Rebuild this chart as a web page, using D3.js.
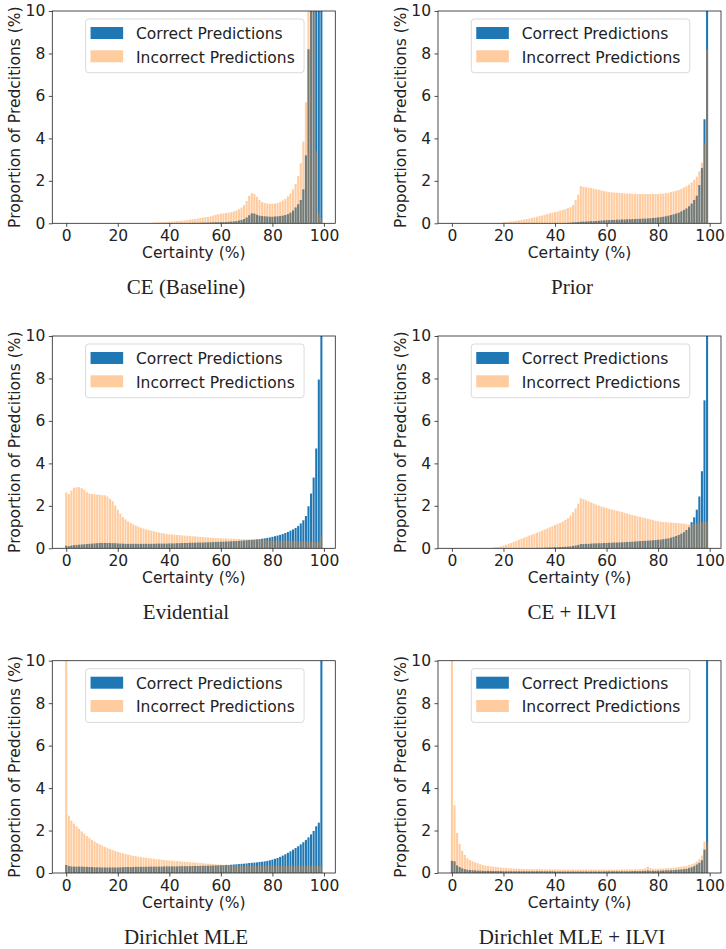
<!DOCTYPE html>
<html>
<head>
<meta charset="utf-8">
<script src="https://cdn.jsdelivr.net/npm/d3@7"></script>
<style>
  html, body { margin: 0; padding: 0; background: #fff; }
  svg { display: block; }
  .tick text { font-family: "DejaVu Sans", sans-serif; font-size: 15.5px; fill: #222; }
  .tick line { stroke: #222; stroke-width: 0.8; }
</style>
</head>
<body>
<svg id="fig" width="726" height="949"></svg>
<script>
// Certainty bins (%), one bar per bin
const bins = d3.range(100);
const xTicks = [0, 20, 40, 60, 80, 100];
const yTicks = [0, 2, 4, 6, 8, 10];
const seriesNames = ["Correct Predictions", "Incorrect Predictions"];
const panelTitles = ["CE (Baseline)", "Prior", "Evidential", "CE + ILVI", "Dirichlet MLE", "Dirichlet MLE + ILVI"];

// Proportion of predictions (%) per certainty bin
const ceCorrect = [
  0,0,0,0,0,0,0,0,0,0, 0,0,0,0,0,0,0,0,0,0, 0,0,0,0,0,0,0,0,0,0, 0,0,0,0,0,0,0,0,0,0,
  0,0,0,0,0,0.01,0.01,0.01,0.01,0.02,
  0.02,0.02,0.02,0.03,0.03,0.03,0.04,0.04,0.05,0.05,
  0.05,0.06,0.06,0.07,0.08,0.09,0.1,0.13,0.16,0.2,
  0.27,0.38,0.47,0.46,0.4,0.36,0.34,0.33,0.32,0.31,
  0.31,0.32,0.33,0.34,0.36,0.39,0.43,0.5,0.6,0.75,
  0.9,1.1,1.6,3.2,8.2,14,22,30,25,10
];
const ceIncorrect = [
  0,0,0,0,0,0,0,0,0,0, 0,0,0,0,0,0,0,0,0,0, 0,0,0,0,0,0,0,0,0,0,
  0,0,0,0,0.03,0.04,0.04,0.05,0.05,0.06,
  0.07,0.08,0.09,0.1,0.11,0.12,0.13,0.15,0.17,0.19,
  0.2,0.22,0.25,0.27,0.29,0.3,0.33,0.36,0.4,0.43,
  0.45,0.47,0.48,0.5,0.52,0.56,0.6,0.66,0.74,0.86,
  1.05,1.3,1.42,1.38,1.25,1.1,1.0,0.96,0.93,0.92,
  0.92,0.93,0.95,1.0,1.07,1.15,1.27,1.4,1.6,1.85,
  2.23,2.83,3.85,5.7,18,22,15,3.4,0.5,0.25
];

const priorCorrect = [
  0,0,0,0,0,0,0,0,0,0, 0,0,0,0,0,0,0,0,0,0, 0,0,0,0,0,0,0,0,0,0, 0,0,0,0,0,0,0,0,0,0,
  0,0,0,0,0,0.02,0.03,0.04,0.05,0.06,
  0.07,0.08,0.08,0.09,0.1,0.1,0.11,0.12,0.13,0.14,
  0.15,0.15,0.16,0.16,0.17,0.17,0.18,0.18,0.19,0.19,
  0.2,0.2,0.21,0.21,0.22,0.22,0.23,0.24,0.25,0.26,
  0.28,0.29,0.31,0.33,0.36,0.39,0.42,0.46,0.5,0.56,
  0.63,0.7,0.8,0.93,1.1,1.3,1.8,2.6,4.9,80
];
const priorIncorrect = [
  0,0,0,0,0,0,0,0,0,0, 0,0,0,0,0,0,0,0,0,0.02,
  0.04,0.05,0.07,0.09,0.1,0.12,0.14,0.16,0.18,0.2,
  0.22,0.25,0.28,0.31,0.34,0.37,0.4,0.44,0.47,0.5,
  0.53,0.56,0.6,0.63,0.67,0.71,0.76,0.86,1.1,1.35,
  1.75,1.72,1.7,1.68,1.66,1.63,1.6,1.58,1.55,1.52,
  1.5,1.48,1.46,1.45,1.44,1.43,1.42,1.41,1.4,1.4,
  1.39,1.39,1.38,1.38,1.38,1.38,1.38,1.38,1.38,1.38,
  1.38,1.39,1.4,1.42,1.44,1.47,1.5,1.53,1.57,1.62,
  1.68,1.75,1.82,1.92,2.05,2.2,2.45,2.85,3.77,8.2
];

const evidentialCorrect = [
  0.12,0.1,0.13,0.15,0.16,0.17,0.18,0.19,0.2,0.21,
  0.22,0.23,0.24,0.25,0.25,0.25,0.25,0.25,0.24,0.24,
  0.23,0.22,0.22,0.21,0.21,0.21,0.21,0.21,0.21,0.21,
  0.21,0.21,0.21,0.21,0.21,0.22,0.22,0.22,0.22,0.22,
  0.23,0.23,0.23,0.24,0.24,0.25,0.25,0.25,0.26,0.26,
  0.26,0.27,0.27,0.27,0.28,0.28,0.29,0.29,0.3,0.3,
  0.31,0.31,0.32,0.32,0.33,0.34,0.34,0.35,0.36,0.37,
  0.38,0.39,0.4,0.41,0.42,0.43,0.45,0.47,0.49,0.51,
  0.54,0.57,0.6,0.63,0.67,0.72,0.77,0.83,0.89,0.96,
  1.05,1.17,1.32,1.52,1.98,2.58,3.33,4.7,7.95,47
];
const evidentialIncorrect = [
  2.63,2.56,2.72,2.85,2.88,2.88,2.83,2.75,2.64,2.58,
  2.56,2.55,2.53,2.52,2.5,2.5,2.44,2.33,2.22,2.02,
  1.82,1.63,1.47,1.36,1.27,1.2,1.13,1.07,1.02,0.97,
  0.93,0.89,0.86,0.83,0.8,0.77,0.74,0.72,0.7,0.68,
  0.66,0.65,0.64,0.63,0.62,0.61,0.6,0.59,0.58,0.57,
  0.56,0.55,0.54,0.53,0.52,0.51,0.5,0.49,0.48,0.48,
  0.47,0.47,0.46,0.46,0.45,0.45,0.44,0.44,0.43,0.43,
  0.42,0.42,0.41,0.4,0.4,0.39,0.39,0.38,0.38,0.38,
  0.37,0.37,0.37,0.36,0.36,0.36,0.36,0.35,0.35,0.35,
  0.34,0.34,0.33,0.33,0.32,0.31,0.3,0.3,0.33,0.55
];

const ilviCorrect = [
  0,0,0,0,0,0,0,0,0,0, 0,0,0,0,0,0,0,0,0,0, 0,0,0,0,0,0,0,0,0,0,
  0.01,0.01,0.01,0.02,0.02,0.02,0.03,0.03,0.04,0.04,
  0.05,0.05,0.06,0.06,0.07,0.08,0.09,0.11,0.13,0.16,
  0.2,0.2,0.21,0.21,0.22,0.23,0.23,0.24,0.24,0.25,
  0.25,0.26,0.26,0.27,0.27,0.28,0.28,0.29,0.3,0.3,
  0.31,0.32,0.33,0.34,0.35,0.35,0.36,0.37,0.38,0.39,
  0.4,0.41,0.43,0.45,0.47,0.5,0.54,0.58,0.63,0.69,
  0.76,0.86,0.99,1.23,1.46,1.82,2.44,3.63,6.97,50
];
const ilviIncorrect = [
  0,0,0,0,0,0,0,0,0,0, 0,0,0,0,0,0,0.03,0.05,0.06,0.09,
  0.13,0.17,0.21,0.25,0.3,0.35,0.4,0.45,0.5,0.55,
  0.6,0.64,0.68,0.73,0.78,0.84,0.89,0.94,0.99,1.04,
  1.1,1.15,1.2,1.26,1.33,1.42,1.54,1.7,1.88,2.1,
  2.36,2.31,2.26,2.21,2.16,2.11,2.06,2.01,1.97,1.93,
  1.9,1.86,1.83,1.8,1.77,1.74,1.71,1.67,1.64,1.6,
  1.57,1.54,1.51,1.48,1.45,1.42,1.39,1.36,1.33,1.3,
  1.27,1.25,1.24,1.23,1.22,1.21,1.2,1.19,1.18,1.17,
  1.16,1.14,1.12,1.12,1.15,1.18,1.22,1.24,1.26,1.25
];

const dirCorrect = [
  0.38,0.33,0.31,0.3,0.3,0.3,0.3,0.29,0.29,0.28,
  0.28,0.27,0.27,0.27,0.26,0.26,0.26,0.26,0.26,0.26,
  0.26,0.27,0.27,0.28,0.28,0.28,0.28,0.29,0.29,0.29,
  0.29,0.29,0.3,0.3,0.3,0.3,0.3,0.3,0.31,0.31,
  0.31,0.31,0.31,0.31,0.32,0.32,0.32,0.32,0.32,0.33,
  0.33,0.33,0.33,0.34,0.34,0.34,0.35,0.35,0.36,0.36,
  0.37,0.37,0.38,0.38,0.39,0.4,0.41,0.42,0.43,0.44,
  0.45,0.47,0.48,0.49,0.5,0.52,0.53,0.55,0.57,0.6,
  0.63,0.67,0.71,0.76,0.82,0.88,0.95,1.02,1.1,1.18,
  1.26,1.35,1.45,1.56,1.68,1.82,1.98,2.2,2.37,48
];
const dirIncorrect = [
  35,2.7,2.47,2.33,2.2,2.08,1.96,1.85,1.74,1.65,
  1.56,1.48,1.41,1.35,1.29,1.23,1.18,1.13,1.08,1.04,
  1.0,0.96,0.93,0.9,0.87,0.84,0.81,0.79,0.77,0.75,
  0.73,0.71,0.7,0.68,0.67,0.65,0.64,0.63,0.61,0.6,
  0.59,0.58,0.57,0.56,0.55,0.54,0.53,0.52,0.51,0.5,
  0.49,0.48,0.47,0.46,0.45,0.44,0.43,0.42,0.41,0.4,
  0.39,0.38,0.37,0.36,0.36,0.35,0.35,0.35,0.35,0.35,
  0.35,0.34,0.34,0.34,0.34,0.34,0.34,0.34,0.34,0.34,
  0.34,0.34,0.34,0.34,0.34,0.34,0.34,0.34,0.34,0.34,
  0.34,0.34,0.34,0.34,0.34,0.34,0.34,0.34,0.34,0.34
];

const dirIlviCorrect = [
  0.57,0.55,0.36,0.28,0.22,0.18,0.15,0.14,0.13,0.12,
  0.11,0.11,0.1,0.1,0.1,0.1,0.09,0.09,0.09,0.09,
  0.08,0.08,0.08,0.08,0.08,0.08,0.08,0.08,0.08,0.08,
  0.08,0.08,0.08,0.08,0.08,0.08,0.08,0.08,0.08,0.08,
  0.07,0.07,0.07,0.07,0.07,0.07,0.07,0.07,0.07,0.07,
  0.07,0.07,0.07,0.07,0.07,0.07,0.07,0.07,0.07,0.07,
  0.08,0.08,0.08,0.08,0.08,0.08,0.08,0.08,0.08,0.08,
  0.09,0.09,0.09,0.09,0.1,0.1,0.12,0.1,0.1,0.1,
  0.11,0.11,0.12,0.12,0.13,0.13,0.14,0.15,0.16,0.17,
  0.18,0.2,0.23,0.27,0.32,0.4,0.48,0.6,1.1,80
];
const dirIlviIncorrect = [
  40,3.18,1.89,1.37,1.05,0.85,0.69,0.61,0.55,0.5,
  0.46,0.41,0.38,0.35,0.33,0.31,0.3,0.28,0.27,0.25,
  0.24,0.23,0.22,0.22,0.21,0.21,0.2,0.2,0.19,0.19,
  0.18,0.18,0.18,0.18,0.18,0.17,0.17,0.17,0.17,0.17,
  0.17,0.17,0.16,0.16,0.16,0.16,0.16,0.16,0.16,0.16,
  0.16,0.16,0.16,0.16,0.16,0.16,0.16,0.16,0.16,0.16,
  0.16,0.16,0.16,0.16,0.16,0.16,0.17,0.17,0.17,0.17,
  0.17,0.17,0.18,0.18,0.19,0.22,0.3,0.24,0.2,0.2,
  0.2,0.21,0.21,0.22,0.23,0.24,0.25,0.26,0.28,0.3,
  0.32,0.34,0.37,0.41,0.46,0.54,0.65,0.82,1.48,1.45
];

const panels = [
  { title: panelTitles[0], correct: ceCorrect, incorrect: ceIncorrect },
  { title: panelTitles[1], correct: priorCorrect, incorrect: priorIncorrect },
  { title: panelTitles[2], correct: evidentialCorrect, incorrect: evidentialIncorrect },
  { title: panelTitles[3], correct: ilviCorrect, incorrect: ilviIncorrect },
  { title: panelTitles[4], correct: dirCorrect, incorrect: dirIncorrect },
  { title: panelTitles[5], correct: dirIlviCorrect, incorrect: dirIlviIncorrect }
];

const BLUE = "#1f77b4";
const ORANGE = "#ff7f0e";
const ORANGE_ALPHA = 0.4;
const SANS = "'DejaVu Sans', sans-serif";
const SERIF = "'Liberation Serif', 'Times New Roman', serif";

const colLeft = [52.3, 438];
const rowTop = [11, 336, 660.7];
const W = 283, H = 212.3;
const barW = 0.8;

const svg = d3.select("#fig");

panels.forEach((p, k) => {
  const col = k % 2, row = Math.floor(k / 2);
  const x0 = colLeft[col], y0 = rowTop[row];
  const g = svg.append("g").attr("transform", `translate(${x0},${y0})`);

  const x = d3.scaleLinear().domain([-5.4, 104.4]).range([0, W]);
  const y = d3.scaleLinear().domain([0, 10]).range([H, 0]);

  const clipId = "clip" + k;
  g.append("clipPath").attr("id", clipId)
    .append("rect").attr("x", 0).attr("y", 0).attr("width", W).attr("height", H);

  const plot = g.append("g").attr("clip-path", `url(#${clipId})`);

  // correct predictions first, incorrect drawn semi-transparent on top
  plot.append("g").selectAll("rect").data(bins.filter(i => p.correct[i] > 0)).join("rect")
    .attr("x", i => x(i - barW / 2))
    .attr("width", i => x(i + barW / 2) - x(i - barW / 2))
    .attr("y", i => y(p.correct[i]))
    .attr("height", i => y(0) - y(p.correct[i]))
    .attr("fill", BLUE);

  plot.append("g").selectAll("rect").data(bins.filter(i => p.incorrect[i] > 0)).join("rect")
    .attr("x", i => x(i - barW / 2))
    .attr("width", i => x(i + barW / 2) - x(i - barW / 2))
    .attr("y", i => y(p.incorrect[i]))
    .attr("height", i => y(0) - y(p.incorrect[i]))
    .attr("fill", ORANGE)
    .attr("fill-opacity", ORANGE_ALPHA);

  // axes
  const xAxis = d3.axisBottom(x).tickValues(xTicks).tickSize(3.5).tickPadding(3.5).tickFormat(d3.format("d"));
  const yAxis = d3.axisLeft(y).tickValues(yTicks).tickSize(3.5).tickPadding(3.5).tickFormat(d3.format("d"));
  g.append("g").attr("transform", `translate(0,${H})`).call(xAxis).call(a => a.select(".domain").remove());
  g.append("g").call(yAxis).call(a => a.select(".domain").remove());

  g.append("rect").attr("x", 0).attr("y", 0).attr("width", W).attr("height", H)
    .attr("fill", "none").attr("stroke", "#222").attr("stroke-width", 0.8);

  // axis labels
  g.append("text")
    .attr("x", W / 2).attr("y", H + 35)
    .attr("text-anchor", "middle")
    .attr("font-family", SANS).attr("font-size", 15.5).attr("fill", "#222")
    .text("Certainty (%)");

  g.append("text")
    .attr("transform", `translate(-32.5,${H / 2}) rotate(-90)`)
    .attr("text-anchor", "middle")
    .attr("font-family", SANS).attr("font-size", 15.5).attr("fill", "#222")
    .text("Proportion of Predcitions (%)");

  // legend
  const lw = 218.5, lh = 53.7;
  const lg = g.append("g").attr("transform", `translate(${W / 2 + 1 - lw / 2},8)`);
  lg.append("rect").attr("width", lw).attr("height", lh).attr("rx", 3)
    .attr("fill", "#fff").attr("fill-opacity", 0.8)
    .attr("stroke", "#d0d0d0").attr("stroke-width", 0.8);
  const swatches = [
    { name: seriesNames[0], color: BLUE, op: 1 },
    { name: seriesNames[1], color: ORANGE, op: ORANGE_ALPHA }
  ];
  swatches.forEach((s, j) => {
    lg.append("rect").attr("x", 5).attr("y", 8 + j * 23.3).attr("width", 32.6).attr("height", 12)
      .attr("fill", s.color).attr("fill-opacity", s.op);
    lg.append("text").attr("x", 50.5).attr("y", 20.3 + j * 23.3)
      .attr("font-family", SANS).attr("font-size", 15.5).attr("fill", "#222")
      .text(s.name);
  });

  // panel caption
  svg.append("text")
    .attr("x", col === 0 ? 186 : 572).attr("y", y0 + 283)
    .attr("text-anchor", "middle")
    .attr("font-family", SERIF).attr("font-size", 21).attr("fill", "#222")
    .text(p.title);
});
</script>
</body>
</html>
